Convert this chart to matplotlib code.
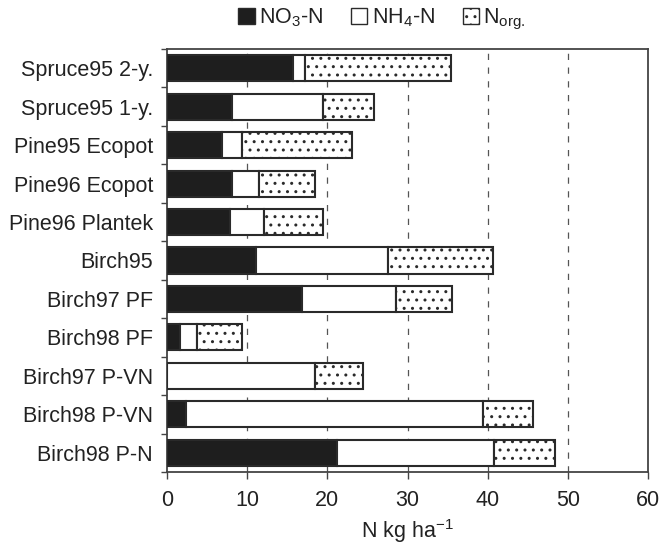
import matplotlib
matplotlib.use('Agg')
import matplotlib.pyplot as plt
import numpy as np
from matplotlib.patches import Patch

# data (N kg ha-1), top to bottom as in the figure
categories = ['Spruce95 2-y.', 'Spruce95 1-y.', 'Pine95 Ecopot', 'Pine96 Ecopot',
              'Pine96 Plantek', 'Birch95', 'Birch97 PF', 'Birch98 PF',
              'Birch97 P-VN', 'Birch98 P-VN', 'Birch98 P-N']
no3 = [15.7, 8.1, 6.9, 8.1, 7.9, 11.1, 16.8, 1.6, 0.0, 2.4, 21.2]
nh4 = [1.5, 11.3, 2.5, 3.4, 4.2, 16.5, 11.8, 2.2, 18.5, 37.0, 19.6]
norg = [18.2, 6.4, 13.7, 7.0, 7.3, 13.1, 6.9, 5.5, 6.0, 6.2, 7.6]
x_ticks = [0, 10, 20, 30, 40, 50, 60]

plt.rcParams['font.family'] = ['Liberation Sans', 'DejaVu Sans']
plt.rcParams['mathtext.fontset'] = 'custom'
plt.rcParams['mathtext.rm'] = 'Liberation Sans'
plt.rcParams['hatch.linewidth'] = 1.0

font_size = 15.5
edge = '#2a2a2a'

fig = plt.figure(figsize=(6.61, 5.47), dpi=100)
ax = fig.add_axes([167 / 661, 75 / 547, 481 / 661, 423 / 547])

y = np.arange(len(categories))
left2 = np.array(no3) + np.array(nh4)
h = 0.68

ax.barh(y, no3, h, color='#1e1e1e', edgecolor=edge, linewidth=1.5, zorder=3)
ax.barh(y, nh4, h, left=no3, color='white', edgecolor=edge, linewidth=1.5, zorder=3)
ax.barh(y, norg, h, left=left2, color='white', edgecolor=edge, linewidth=1.5,
        hatch='..', zorder=3)

ax.set_xlim(0, 60)
ax.set_ylim(len(categories) - 0.5, -0.5)

ax.set_xticks(x_ticks)
ax.set_xticklabels([str(t) for t in x_ticks], fontsize=font_size)
ax.tick_params(axis='x', length=5, width=1, pad=8, color='#444444', labelcolor='#222222')

ax.set_yticks(y)
ax.set_yticklabels(categories, fontsize=font_size, color='#222222')
ax.tick_params(axis='y', which='major', length=0, pad=10)
ax.set_yticks(np.arange(len(categories) + 1) - 0.5, minor=True)
ax.tick_params(axis='y', which='minor', length=4, width=1, color='#444444')

for t in x_ticks[1:-1]:
    ax.axvline(t, color='#555555', linestyle=(0, (5, 6)), linewidth=0.9, zorder=1)

for s in ax.spines.values():
    s.set_color('#444444')
    s.set_linewidth(1.3)

ax.set_xlabel('N kg ha$^{\\mathregular{-1}}$', fontsize=font_size, labelpad=4, color='#222222')

handles = [
    Patch(facecolor='#1e1e1e', edgecolor=edge, linewidth=1.0),
    Patch(facecolor='white', edgecolor=edge, linewidth=1.0),
    Patch(facecolor='white', edgecolor=edge, linewidth=1.0, hatch='..'),
]
labels = ['NO$_\\mathregular{3}$-N', 'NH$_\\mathregular{4}$-N', 'N$_\\mathregular{org.}$']
leg = fig.legend(handles, labels, loc='center', bbox_to_anchor=(382 / 661, 1 - 19 / 547),
                 ncol=3, frameon=False, fontsize=font_size, handlelength=0.75,
                 handleheight=0.75, handletextpad=0.2, columnspacing=1.3)
for t in leg.get_texts():
    t.set_color('#222222')

plt.savefig('out.png', dpi=100)
